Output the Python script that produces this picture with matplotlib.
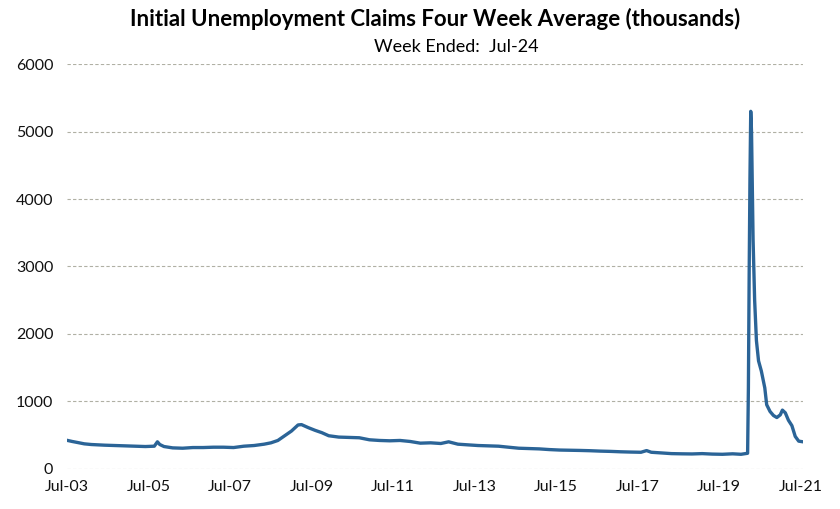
import matplotlib.pyplot as plt
import matplotlib.dates as mdates
import pandas as pd

# four week average of initial claims, thousands
dates = [
    "2003-07-05", "2003-08-15", "2003-10-01", "2003-12-01", "2004-02-01", "2004-04-01",
    "2004-06-01", "2004-09-01", "2004-12-01", "2005-03-01", "2005-06-01", "2005-08-20",
    "2005-09-17", "2005-10-08", "2005-11-15", "2006-02-01", "2006-05-01", "2006-08-01",
    "2006-11-01", "2007-02-01", "2007-05-01", "2007-08-01", "2007-11-01", "2008-02-01",
    "2008-05-01", "2008-07-01", "2008-09-01", "2008-11-01", "2009-01-01", "2009-03-01",
    "2009-04-01", "2009-06-01", "2009-08-01", "2009-10-01", "2009-12-01", "2010-03-01",
    "2010-06-01", "2010-09-01", "2010-12-01", "2011-03-01", "2011-06-01", "2011-09-01",
    "2011-12-01", "2012-03-01", "2012-06-01", "2012-09-01", "2012-11-10", "2013-02-01",
    "2013-05-01", "2013-08-01", "2013-11-01", "2014-02-01", "2014-05-01", "2014-08-01",
    "2014-11-01", "2015-02-01", "2015-05-01", "2015-08-01", "2015-11-01", "2016-02-01",
    "2016-05-01", "2016-08-01", "2016-11-01", "2017-02-01", "2017-05-01", "2017-08-01",
    "2017-09-20", "2017-11-01", "2018-02-01", "2018-05-01", "2018-08-01", "2018-11-01",
    "2019-02-01", "2019-05-01", "2019-08-01", "2019-11-01", "2020-01-15", "2020-03-14",
    "2020-03-21", "2020-03-28", "2020-04-04", "2020-04-11", "2020-04-18", "2020-04-25",
    "2020-05-02", "2020-05-16", "2020-06-01", "2020-06-20", "2020-07-15", "2020-08-15",
    "2020-09-01", "2020-10-01", "2020-11-01", "2020-12-01", "2021-01-01", "2021-01-20",
    "2021-02-15", "2021-03-15", "2021-04-15", "2021-05-15", "2021-06-15", "2021-07-24",
]
claims = [
    420, 405, 390, 370, 360, 355,
    350, 345, 340, 335, 330, 335,
    400, 360, 330, 310, 305, 315,
    315, 320, 320, 315, 335, 345,
    365, 385, 420, 490, 560, 650,
    655, 610, 570, 535, 490, 470,
    465, 460, 430, 420, 415, 420,
    405, 380, 385, 375, 400, 365,
    355, 345, 340, 335, 320, 305,
    300, 295, 285, 278, 275, 272,
    268, 262, 258, 252, 248, 245,
    270, 245, 235, 225, 222, 220,
    225, 218, 215, 222, 215, 230,
    1200, 2900, 4300, 5300, 5000, 4200,
    3400, 2500, 1900, 1600, 1450, 1200,
    950, 850, 790, 760, 800, 870,
    830, 720, 640, 480, 410, 400,
]

s = pd.Series(claims, index=pd.to_datetime(dates))

fig = plt.figure(figsize=(8.4, 5.09), dpi=100)
ax = fig.add_axes([0.08, 0.079, 0.876, 0.795])

ax.plot(s.index, s.values, color="#2b6497", lw=2.4, solid_joinstyle="round")

ax.set_ylim(0, 6000)
ax.set_yticks(range(0, 6001, 1000))
ax.set_xlim(pd.Timestamp("2003-07-01"), pd.Timestamp("2021-07-24"))
ax.set_xticks(pd.to_datetime(["20%02d-07-01" % y for y in range(3, 22, 2)]))
ax.xaxis.set_major_formatter(mdates.DateFormatter("%b-%y"))

ax.grid(axis="y", color="#b0b0a4", ls=(0, (3, 2)), lw=0.8)
ax.set_axisbelow(True)
for sp in ax.spines.values():
    sp.set_visible(False)
ax.tick_params(length=0, labelsize=11.5, colors="#111111", pad=10, labelfontfamily="Lato")
ax.tick_params(axis="x", pad=8)

fig.text(0.518, 0.963, "Initial Unemployment Claims Four Week Average (thousands)",
         ha="center", va="center", fontsize=16, fontweight="bold", family="Lato")
fig.text(0.543, 0.908, "Week Ended:  Jul-24", ha="center", va="center",
         fontsize=13, family="Lato")

plt.savefig("out.png", dpi=100)
